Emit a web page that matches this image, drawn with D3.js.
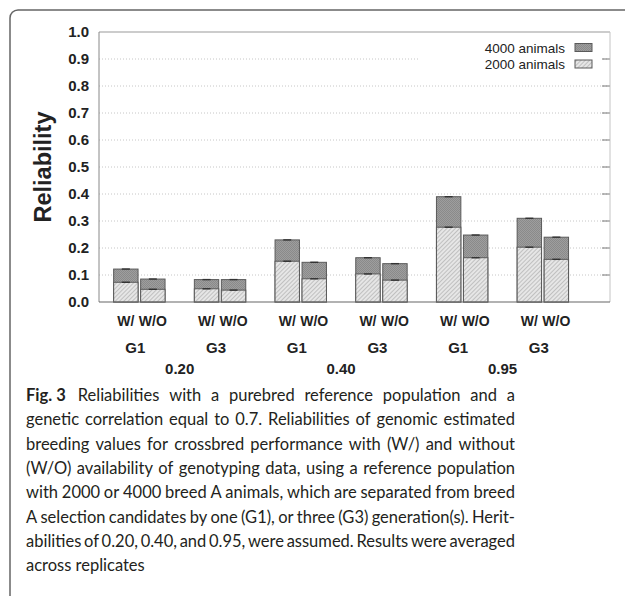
<!DOCTYPE html>
<html><head><meta charset="utf-8">
<script src="https://cdn.jsdelivr.net/npm/d3@7/dist/d3.min.js"></script>
<style>body{margin:0;background:#fff} svg{display:block}</style>
</head><body>
<svg id="c" width="625" height="596"></svg>
<script>
// ---- data ----
const heritabilities = ["0.20", "0.40", "0.95"];
const generations = ["G1", "G3"];
const genotyping = ["W/", "W/O"];
// order: h 0.20 (G1 W/, G1 W/O, G3 W/, G3 W/O), h 0.40 (...), h 0.95 (...)
const rel2000 = [0.073, 0.047, 0.049, 0.044, 0.151, 0.086, 0.104, 0.081, 0.277, 0.164, 0.203, 0.158];
const rel4000 = [0.122, 0.085, 0.083, 0.083, 0.230, 0.147, 0.164, 0.142, 0.390, 0.248, 0.310, 0.240];
const yTicks = [0, 0.1, 0.2, 0.3, 0.4, 0.5, 0.6, 0.7, 0.8, 0.9, 1.0];
const legendLabels = ["4000 animals", "2000 animals"];
const yTitle = "Reliability";
const figLabel = "Fig. 3";
const captionLines = [
  "Reliabilities with a purebred reference population and a",
  "genetic correlation equal to 0.7. Reliabilities of genomic estimated",
  "breeding values for crossbred performance with (W/) and without",
  "(W/O) availability of genotyping data, using a reference population",
  "with 2000 or 4000 breed A animals, which are separated from breed",
  "A selection candidates by one (G1), or three (G3) generation(s). Herit-",
  "abilities of 0.20, 0.40, and 0.95, were assumed. Results were averaged",
  "across replicates"
];

// ---- layout ----
const svg = d3.select("#c");
const L = 99, R = 610, T = 32, B = 302;
const chartFont = "'Liberation Sans', Arial, sans-serif";
const groupKeys = [];
heritabilities.forEach(h => generations.forEach(g => groupKeys.push(h + "|" + g)));
const records = rel2000.map((v, i) => ({
  group: groupKeys[Math.floor(i / 2)],
  geno: genotyping[i % 2],
  v2000: v,
  v4000: rel4000[i]
}));

const y = d3.scaleLinear().domain([0, 1]).range([B, T]);
const x0 = d3.scaleBand().domain(groupKeys).range([L, 583.2]);
const x1 = d3.scaleBand().domain(genotyping).range([14.65, 66.05]).paddingInner(0.0963);

// patterns
const defs = svg.append("defs");
const hp = defs.append("pattern").attr("id", "hatch").attr("patternUnits", "userSpaceOnUse")
  .attr("width", 3).attr("height", 3).attr("patternTransform", "rotate(45)");
hp.append("rect").attr("width", 3).attr("height", 3).attr("fill", "#e6e6e6");
hp.append("line").attr("x1", 0).attr("y1", 0).attr("x2", 0).attr("y2", 3)
  .attr("stroke", "#a0a0a0").attr("stroke-width", 1.1);
const dp = defs.append("pattern").attr("id", "dark").attr("patternUnits", "userSpaceOnUse")
  .attr("width", 2).attr("height", 2);
dp.append("rect").attr("width", 2).attr("height", 2).attr("fill", "#9e9e9e");
dp.append("rect").attr("width", 1).attr("height", 1).attr("fill", "#8a8a8a");
dp.append("rect").attr("x", 1).attr("y", 1).attr("width", 1).attr("height", 1).attr("fill", "#8a8a8a");

// figure border
svg.append("path").attr("d", "M10,596 V18 A8,8 0 0 1 18,10 H625")
  .attr("fill", "none").attr("stroke", "#666").attr("stroke-width", 1.5);

// gridlines
svg.append("g").selectAll("line").data(yTicks.filter(t => t > 0 && t < 1)).join("line")
  .attr("x1", L).attr("x2", R).attr("y1", d => y(d)).attr("y2", d => y(d))
  .attr("stroke", "#b8b8b8").attr("stroke-width", 0.8).attr("stroke-dasharray", "1,2");

// legend background (hides gridlines)
svg.append("rect").attr("x", 420).attr("y", 36).attr("width", 181).attr("height", 39).attr("fill", "#fff");

// right inner ticks
svg.append("g").selectAll("line").data(yTicks.filter(t => t > 0 && t < 1)).join("line")
  .attr("x1", R - 8).attr("x2", R).attr("y1", d => y(d)).attr("y2", d => y(d))
  .attr("stroke", "#777").attr("stroke-width", 1);

// plot frame
svg.append("line").attr("x1", L).attr("x2", R).attr("y1", T).attr("y2", T).attr("stroke", "#999");
svg.append("line").attr("x1", R).attr("x2", R).attr("y1", T).attr("y2", B).attr("stroke", "#c4c4c4");
svg.append("line").attr("x1", L).attr("x2", L).attr("y1", T).attr("y2", B).attr("stroke", "#888");

// bars
const bars = svg.append("g");
const bx = d => x0(d.group) + x1(d.geno);
const bw = x1.bandwidth();
bars.selectAll("rect.b4").data(records).join("rect").attr("class", "b4")
  .attr("x", bx).attr("width", bw).attr("y", d => y(d.v4000)).attr("height", d => y(0) - y(d.v4000))
  .attr("fill", "url(#dark)").attr("stroke", "#5a5a5a").attr("stroke-width", 1);
bars.selectAll("rect.b2").data(records).join("rect").attr("class", "b2")
  .attr("x", bx).attr("width", bw).attr("y", d => y(d.v2000)).attr("height", d => y(0) - y(d.v2000))
  .attr("fill", "url(#hatch)").attr("stroke", "#5a5a5a").attr("stroke-width", 1);
// tiny error bar marks
["v4000", "v2000"].forEach(k => {
  bars.selectAll("line." + k).data(records).join("line").attr("class", k)
    .attr("x1", d => bx(d) + bw / 2 - 4).attr("x2", d => bx(d) + bw / 2 + 4)
    .attr("y1", d => y(d[k])).attr("y2", d => y(d[k]))
    .attr("stroke", "#333").attr("stroke-width", 1.4);
});

// bottom axis line
svg.append("line").attr("x1", L).attr("x2", R).attr("y1", B).attr("y2", B).attr("stroke", "#666").attr("stroke-width", 1.2);

// y axis labels
const yAxis = svg.append("g").attr("transform", `translate(${L},0)`)
  .call(d3.axisLeft(y).tickValues(yTicks).tickFormat(d3.format(".1f")).tickSize(0).tickPadding(10));
yAxis.select(".domain").remove();
yAxis.selectAll("text").attr("font-family", chartFont).attr("font-size", 15)
  .attr("font-weight", "bold").attr("fill", "#222");

// y title
svg.append("text").attr("transform", "translate(51,167) rotate(-90)")
  .attr("text-anchor", "middle").attr("font-family", chartFont).attr("font-weight", "bold")
  .attr("font-size", 23.5).attr("fill", "#222").text(yTitle);

// x labels
const lab = svg.append("g").attr("font-family", chartFont).attr("font-weight", "bold")
  .attr("font-size", 14).attr("fill", "#222").attr("text-anchor", "middle");
lab.selectAll("text.geno").data(records).join("text").attr("class", "geno")
  .attr("x", d => bx(d) + bw / 2).attr("y", 326).text(d => d.geno);
lab.selectAll("text.gen").data(groupKeys).join("text").attr("class", "gen")
  .attr("x", d => x0(d) + x0.bandwidth() / 2 - 4).attr("y", 353).attr("font-size", 15).text(d => d.split("|")[1]);
lab.selectAll("text.her").data(heritabilities).join("text").attr("class", "her")
  .attr("x", h => x0(h + "|" + generations[0]) + x0.bandwidth()).attr("y", 374).attr("font-size", 15).text(h => h);

// legend
const leg = svg.append("g").attr("font-family", chartFont).attr("font-size", 13.5).attr("fill", "#222");
const legFills = ["url(#dark)", "url(#hatch)"];
legendLabels.forEach((t, i) => {
  leg.append("text").attr("x", 565).attr("y", 52.5 + i * 16).attr("text-anchor", "end").text(t);
  leg.append("rect").attr("x", 575).attr("y", 43.5 + i * 16.5).attr("width", 17).attr("height", 8)
    .attr("fill", legFills[i]).attr("stroke", "#5a5a5a").attr("stroke-width", 1);
});

// caption (justified)
const capFont = "Lato, 'Open Sans', sans-serif";
const capSize = 16.5, capLeft = 26, capRight = 515, capTop = 401, capLH = 24.3;
const cap = svg.append("g").attr("font-family", capFont).attr("font-size", capSize).attr("fill", "#231f20");
captionLines.forEach((line, i) => {
  const yy = capTop + i * capLH;
  let xs = capLeft;
  if (i === 0) {
    const f = cap.append("text").attr("x", capLeft).attr("y", yy).attr("font-weight", "bold").text(figLabel);
    xs = capLeft + f.node().getComputedTextLength() + 12;
  }
  const words = line.split(" ");
  const nodes = words.map(w => cap.append("text").attr("y", yy).text(w));
  const widths = nodes.map(n => n.node().getComputedTextLength());
  const sum = d3.sum(widths);
  const justify = i < captionLines.length - 1;
  let gap = justify ? (capRight - xs - sum) / (words.length - 1) : capSize * 0.25;
  let x = xs;
  nodes.forEach((n, k) => {
    n.attr("x", x);
    x += widths[k] + gap;
  });
});
</script>
</body></html>
